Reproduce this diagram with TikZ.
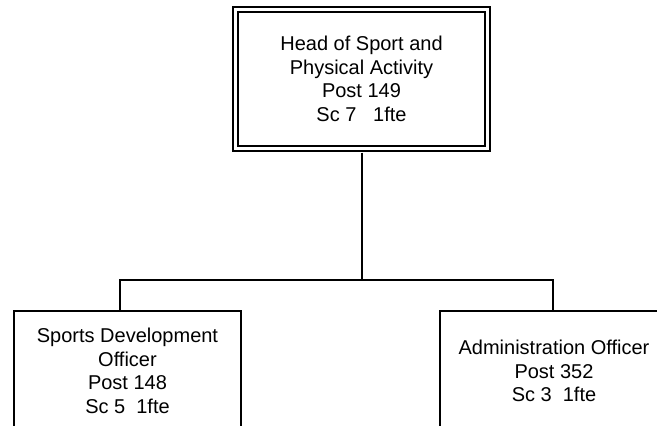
\documentclass[tikz,border=0pt]{standalone}
\usepackage{fontspec}
\setmainfont{Liberation Sans}
\usetikzlibrary{positioning}

\begin{document}
\begin{tikzpicture}[x=1pt, y=-1pt,
    post/.style={draw, line width=2pt, minimum width=227pt, minimum height=120pt,
                 align=center, inner sep=0pt, font=\fontsize{20}{23.5}\selectfont},
    headpost/.style={post, double, line width=2pt, double distance=3pt,
                 minimum width=252pt, minimum height=138.5pt},
    link/.style={line width=2pt}
]

\useasboundingbox (0,0) rectangle (657,426);
\clip (0,0) rectangle (657,426);

\node[headpost] (head) at (361.5,78.75)
    {Head of Sport and\\Physical Activity\\Post 149\\Sc 7\ \ \ 1fte};
\node[post] (sdo) at (127.5,371)
    {Sports Development\\Officer\\Post 148\\Sc 5\ \ 1fte};
\node[post, minimum width=228pt] (admin) at (554,371)
    {Administration Officer\\Post 352\\Sc 3\ \ 1fte};

\coordinate (split) at (361.5,280);
\draw[link] ([yshift=-3.5pt]head.south) -- (split);
\draw[link] (split) -| ([xshift=-7.5pt]sdo.north);
\draw[link] (split) -| ([xshift=-1pt]admin.north);

\end{tikzpicture}
\end{document}
